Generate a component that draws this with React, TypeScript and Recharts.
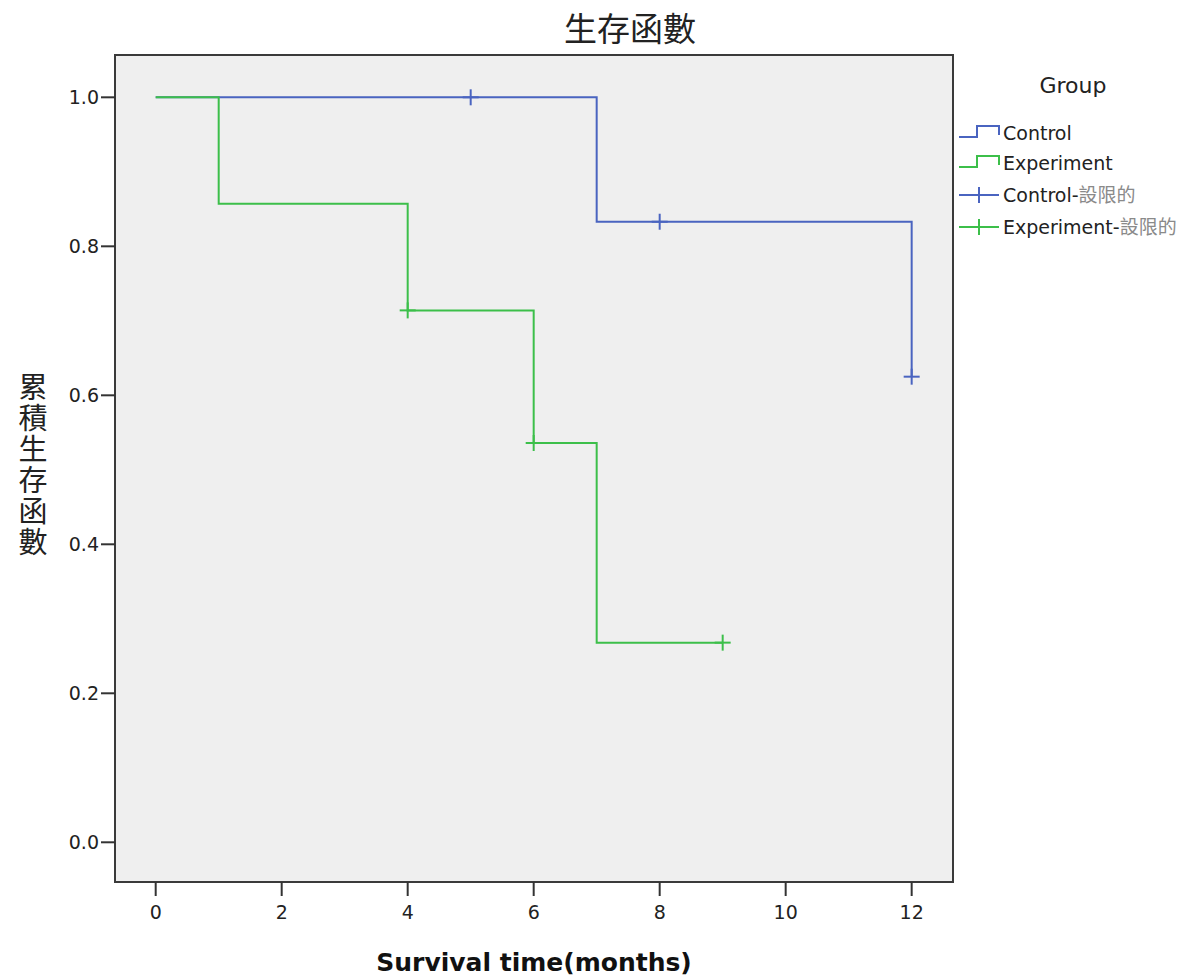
import React from 'react';
import {
  ComposedChart,
  Line,
  Scatter,
  XAxis,
  YAxis,
  ReferenceArea,
  Customized,
} from 'recharts';

// ---- data ----
const controlSteps = [
  { x: 0, y: 1.0 },
  { x: 7, y: 0.833 },
  { x: 12, y: 0.625 },
];
const experimentSteps = [
  { x: 0, y: 1.0 },
  { x: 1, y: 0.857 },
  { x: 4, y: 0.714 },
  { x: 6, y: 0.536 },
  { x: 7, y: 0.268 },
  { x: 9, y: 0.268 },
];
const controlCensored = [
  { x: 5, y: 1.0 },
  { x: 8, y: 0.833 },
  { x: 12, y: 0.625 },
];
const experimentCensored = [
  { x: 4, y: 0.714 },
  { x: 6, y: 0.536 },
  { x: 9, y: 0.268 },
];
const xTicks = [0, 2, 4, 6, 8, 10, 12];
const yTicks = [0, 0.2, 0.4, 0.6, 0.8, 1.0];
const chartTitle = '生存函數';
const xTitle = 'Survival time(months)';
const yTitle = '累積生存函數';
const legendTitle = 'Group';
const censorSuffix = '設限的';

const X_MIN = -0.646;
const X_MAX = 12.656;
const Y_MIN = -0.0533;
const Y_MAX = 1.0568;

const BLUE = '#4a64c0';
const GREEN = '#3cbf4a';
const FONT = '"DejaVu Sans", "Noto Sans CJK TC", sans-serif';
const CJK = '"Noto Sans CJK TC", sans-serif';

const makeCross = (color: string) => (props: any) => {
  const { cx, cy } = props;
  if (cx == null || cy == null) return <g />;
  return (
    <g>
      <line x1={cx - 8} x2={cx + 8} y1={cy} y2={cy} stroke={color} strokeWidth={2} />
      <line x1={cx} x2={cx} y1={cy - 8} y2={cy + 8} stroke={color} strokeWidth={2} />
    </g>
  );
};

const Overlay = () => {
  const rows = [140, 170, 202, 234];
  const iconL = 959;
  const iconR = 999;
  const textX = 1003;
  return (
    <g>
      {/* title */}
      <text x={630} y={41} textAnchor="middle" fontFamily={CJK} fontSize={33} fill="#222">
        {chartTitle}
      </text>
      {/* y axis title, vertical */}
      <text
        x={33}
        y={372}
        fontFamily={CJK}
        fontSize={29}
        fill="#222"
        style={{ writingMode: 'vertical-rl', letterSpacing: '2px' }}
      >
        {yTitle}
      </text>
      {/* x axis title */}
      <text x={534} y={971} textAnchor="middle" fontFamily='"DejaVu Sans", sans-serif' fontWeight="bold" fontSize={25} fill="#111">
        {xTitle}
      </text>
      {/* legend */}
      <text x={1073} y={93} textAnchor="middle" fontFamily={FONT} fontSize={22} fill="#222">
        {legendTitle}
      </text>
      {[BLUE, GREEN].map((col, i) => {
        const c = rows[i] - 7;
        return (
          <path
            key={'s' + i}
            d={`M${iconL},${c + 4} H${iconL + 18} V${c - 7} H${iconR} V${c + 2}`}
            fill="none"
            stroke={col}
            strokeWidth={2}
          />
        );
      })}
      {[BLUE, GREEN].map((col, i) => {
        const c = rows[i + 2] - 7;
        return (
          <g key={'c' + i}>
            <line x1={iconL} x2={iconR} y1={c} y2={c} stroke={col} strokeWidth={2} />
            <line x1={979} x2={979} y1={c - 8} y2={c + 8} stroke={col} strokeWidth={2} />
          </g>
        );
      })}
      <text x={textX} y={rows[0]} fontFamily={FONT} fontSize={19} fill="#222">Control</text>
      <text x={textX} y={rows[1]} fontFamily={FONT} fontSize={19} fill="#222">Experiment</text>
      <text x={textX} y={rows[2]} fontFamily={FONT} fontSize={19} fill="#222">
        Control-<tspan fill="#8a8a8a" fontFamily={CJK}>{censorSuffix}</tspan>
      </text>
      <text x={textX} y={rows[3]} fontFamily={FONT} fontSize={19} fill="#222">
        Experiment-<tspan fill="#8a8a8a" fontFamily={CJK}>{censorSuffix}</tspan>
      </text>
    </g>
  );
};

export default function App() {
  return (
    <div style={{ position: 'absolute', left: 0, top: 0, width: 1192, height: 980 }}>
      <ComposedChart
        width={1192}
        height={980}
        margin={{ top: 55, right: 239, bottom: 58, left: 15 }}
      >
        <XAxis
          dataKey="x"
          type="number"
          domain={[X_MIN, X_MAX]}
          ticks={xTicks}
          allowDataOverflow
          axisLine={false}
          tickSize={14}
          tickMargin={10}
          height={40}
          tickLine={{ stroke: '#333', strokeWidth: 2 }}
          tick={{ fill: '#222', fontSize: 19, fontFamily: FONT }}
        />
        <YAxis
          dataKey="y"
          type="number"
          domain={[Y_MIN, Y_MAX]}
          ticks={yTicks}
          allowDataOverflow
          axisLine={false}
          tickSize={14}
          tickMargin={2}
          width={100}
          tickFormatter={(v: number) => v.toFixed(1)}
          tickLine={{ stroke: '#333', strokeWidth: 2 }}
          tick={{ fill: '#222', fontSize: 19, fontFamily: FONT }}
        />
        <ReferenceArea
          x1={X_MIN}
          x2={X_MAX}
          y1={Y_MIN}
          y2={Y_MAX}
          ifOverflow="visible"
          fill="#efefef"
          fillOpacity={1}
          stroke="#3a3a3a"
          strokeWidth={2}
        />
        <Line
          data={controlSteps}
          dataKey="y"
          type="stepAfter"
          stroke={BLUE}
          strokeWidth={2}
          dot={false}
          activeDot={false}
          isAnimationActive={false}
        />
        <Line
          data={experimentSteps}
          dataKey="y"
          type="stepAfter"
          stroke={GREEN}
          strokeWidth={2}
          dot={false}
          activeDot={false}
          isAnimationActive={false}
        />
        <Scatter
          data={controlCensored}
          dataKey="y"
          fill={BLUE}
          shape={makeCross(BLUE)}
          isAnimationActive={false}
        />
        <Scatter
          data={experimentCensored}
          dataKey="y"
          fill={GREEN}
          shape={makeCross(GREEN)}
          isAnimationActive={false}
        />
        <Customized component={Overlay} />
      </ComposedChart>
    </div>
  );
}
